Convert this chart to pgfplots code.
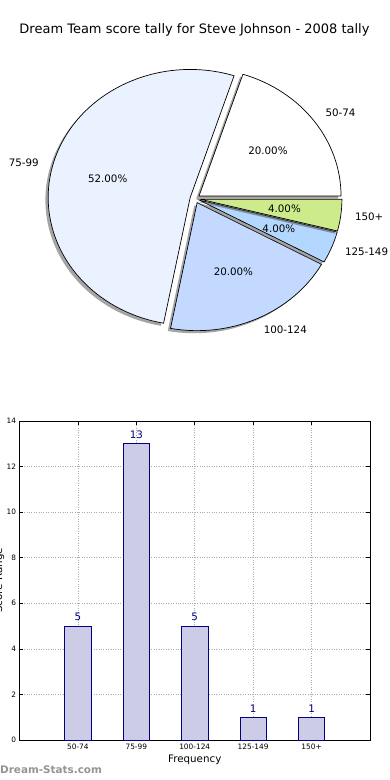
\documentclass[border=0pt]{standalone}
\usepackage{pgfplots}
\pgfplotsset{compat=1.18}
\usepackage{pgfplotstable}
\usepackage{fontspec}
\setmainfont{DejaVu Sans}
\definecolor{cA}{HTML}{FFFFFF}
\definecolor{cB}{HTML}{EBF2FF}
\definecolor{cC}{HTML}{C3D9FF}
\definecolor{cD}{HTML}{B4D7FF}
\definecolor{cE}{HTML}{CDEB8B}
\definecolor{barfill}{RGB}{204,204,230}
\definecolor{navy}{HTML}{000080}
\newcommand\lbl{\fontsize{10.3}{12}\selectfont}

\pgfplotstableread{
x label value
0 50-74 5
1 75-99 13
2 100-124 5
3 125-149 1
4 150+ 1
}\bardata

% #1 start angle, #2 end angle, #3 colour, #4 label, #5 percent, #6 label anchor
\newcommand\slice[6]{%
  \fill[black!70, opacity=0.5] ([shift={({(#1+#2)/2}:4.97pt and 4.48pt)}, xshift=-2.8pt, yshift=-2.6pt]axis cs:195,198.6)
     -- ++(#1:142pt and 128pt) arc[start angle=#1, end angle=#2, x radius=142pt, y radius=128pt] -- cycle;
  \filldraw[fill=#3, draw=black, line width=0.7pt] ([shift={({(#1+#2)/2}:4.97pt and 4.48pt)}]axis cs:195,198.6)
     -- ++(#1:142pt and 128pt) arc[start angle=#1, end angle=#2, x radius=142pt, y radius=128pt] -- cycle;
  \node[anchor=#6, inner sep=0pt, font=\lbl] at ([shift={({(#1+#2)/2}:161.17pt and 145.28pt)}]axis cs:195,198.6) {#4};
  \node[inner sep=0pt, font=\lbl] at ([shift={({(#1+#2)/2}:90.17pt and 81.28pt)}]axis cs:195,198.6) {#5};
}

\begin{document}
\begin{tikzpicture}
\path[use as bounding box] (0pt,0pt) rectangle (390pt,780pt);
\clip (0pt,0pt) rectangle (390pt,780pt);

% title
\node[font=\fontsize{13}{15}\selectfont] at (194.5pt,750pt) {Dream Team score tally for Steve Johnson - 2008 tally};

% pie (values 5, 13, 5, 1, 1 of 25)
\begin{axis}[at={(0pt,0pt)}, anchor=south west, scale only axis, width=390pt, height=780pt,
  xmin=0, xmax=390, ymin=0, ymax=780, y dir=reverse, hide axis, clip=false]
  \slice{0}{72}{cA}{50-74}{20.00\%}{west}
  \slice{72}{259.2}{cB}{75-99}{52.00\%}{east}
  \slice{259.2}{331.2}{cC}{100-124}{20.00\%}{west}
  \slice{331.2}{345.6}{cD}{125-149}{4.00\%}{west}
  \slice{345.6}{360}{cE}{150+}{4.00\%}{west}
\end{axis}

% bar chart
\begin{axis}[at={(19.5pt,40pt)}, anchor=south west, scale only axis, width=350.5pt, height=319pt,
  xmin=-1, xmax=5, ymin=0, ymax=14,
  xtick={0,1,2,3,4}, xticklabels={50-74,75-99,100-124,125-149,150+},
  ytick={0,2,...,14},
  tick align=inside, major tick length=4pt, tick style={black, line width=0.5pt},
  grid=major, major grid style={dotted, black!32, line width=0.7pt},
  axis line style={line width=0.8pt},
  ticklabel style={font=\fontsize{7.4}{8}\selectfont},
  /pgf/number format/assume math mode=true,
  xlabel={Frequency}, xlabel style={at={(axis description cs:0.5,0)}, anchor=center, yshift=-20pt, font=\lbl},
  ylabel={Score Range}, ylabel style={at={(axis description cs:0,0.5)}, anchor=base, yshift=17.5pt, font=\lbl},
  ]
  \addplot[ybar, bar width=0.45, fill=barfill, draw=navy, line width=0.6pt,
    nodes near coords, every node near coord/.append style={font=\lbl, text=navy, yshift=1.5pt}]
    table[x=x, y=value] {\bardata};
\end{axis}

% watermark
\node[anchor=west, inner sep=0pt, font=\bfseries\fontsize{10.4}{12}\selectfont, text=black!42] at (0pt,10pt) {Dream-Stats.com};
\end{tikzpicture}
\end{document}
